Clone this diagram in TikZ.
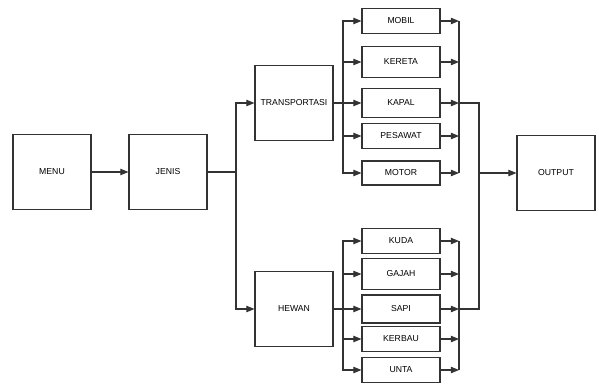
\documentclass[tikz,border=0pt]{standalone}
\usepackage{fontspec}
\setmainfont{Liberation Sans}
\usetikzlibrary{arrows.meta, positioning}

\begin{document}
\begin{tikzpicture}[x=0.03cm, y=-0.03cm,
   font=\fontsize{7.4}{8}\selectfont, line width=0.9pt, draw=black!80,
   big/.style = {draw, minimum width=2.34cm, minimum height=2.25cm, inner sep=0pt},
   item/.style = {draw, minimum width=2.34cm, inner sep=0pt},
   -{Triangle[length=7pt, width=5.5pt]}]
   \useasboundingbox (0,0) rectangle (599,385);

   \node[big] (menu)   at (52,172)  {MENU};
   \node[big] (jenis)  at (168,172) {JENIS};
   \node[big] (trans)  at (294,103) {TRANSPORTASI};
   \node[big] (hewan)  at (294,309) {HEWAN};
   \node[big] (output) at (556,173) {OUTPUT};

   \node[item, minimum height=0.75cm] (mobil)   at (401,21)  {MOBIL};
   \node[item, minimum height=0.93cm] (kereta)  at (401,62)  {KERETA};
   \node[item, minimum height=0.87cm] (kapal)   at (401,103) {KAPAL};
   \node[item, minimum height=0.75cm] (pesawat) at (401,136) {PESAWAT};
   \node[item, minimum height=0.72cm] (motor)   at (401,173) {MOTOR};
   \node[item, minimum height=0.75cm] (kuda)    at (401,241) {KUDA};
   \node[item, minimum height=0.93cm] (gajah)   at (401,274) {GAJAH};
   \node[item, minimum height=0.84cm] (sapi)    at (401,309) {SAPI};
   \node[item, minimum height=0.75cm] (kerbau)  at (401,339) {KERBAU};
   \node[item, minimum height=0.75cm] (unta)    at (401,370) {UNTA};

   \coordinate (split) at (236,172);
   \coordinate (tbus)  at (343,103);
   \coordinate (hbus)  at (343,309);
   \coordinate (col)   at (459,0);
   \coordinate (out)   at (479,0);

   \draw (menu) -- (jenis);
   \draw[-] (jenis) -- (split);
   \draw (split) |- (trans);
   \draw (split) |- (hewan);

   \draw[-] (trans) -- (tbus);
   \draw[-] (hewan) -- (hbus);
   \foreach \n in {mobil, kereta, kapal, pesawat, motor}
      \draw (tbus) |- (\n);
   \foreach \n in {kuda, gajah, sapi, kerbau, unta}
      \draw (hbus) |- (\n);

   \foreach \n in {mobil, kereta, kapal, pesawat, motor, kuda, gajah, sapi, kerbau, unta}
      \draw (\n) -- (\n -| col);
   \draw[-] (mobil -| col) -- (motor -| col);
   \draw[-] (kuda -| col) -- (unta -| col);

   \draw[-] (kapal -| col) -- (kapal -| out) -- (sapi -| out) -- (sapi -| col);
   \draw (output -| out) -- (output);
\end{tikzpicture}
\end{document}
